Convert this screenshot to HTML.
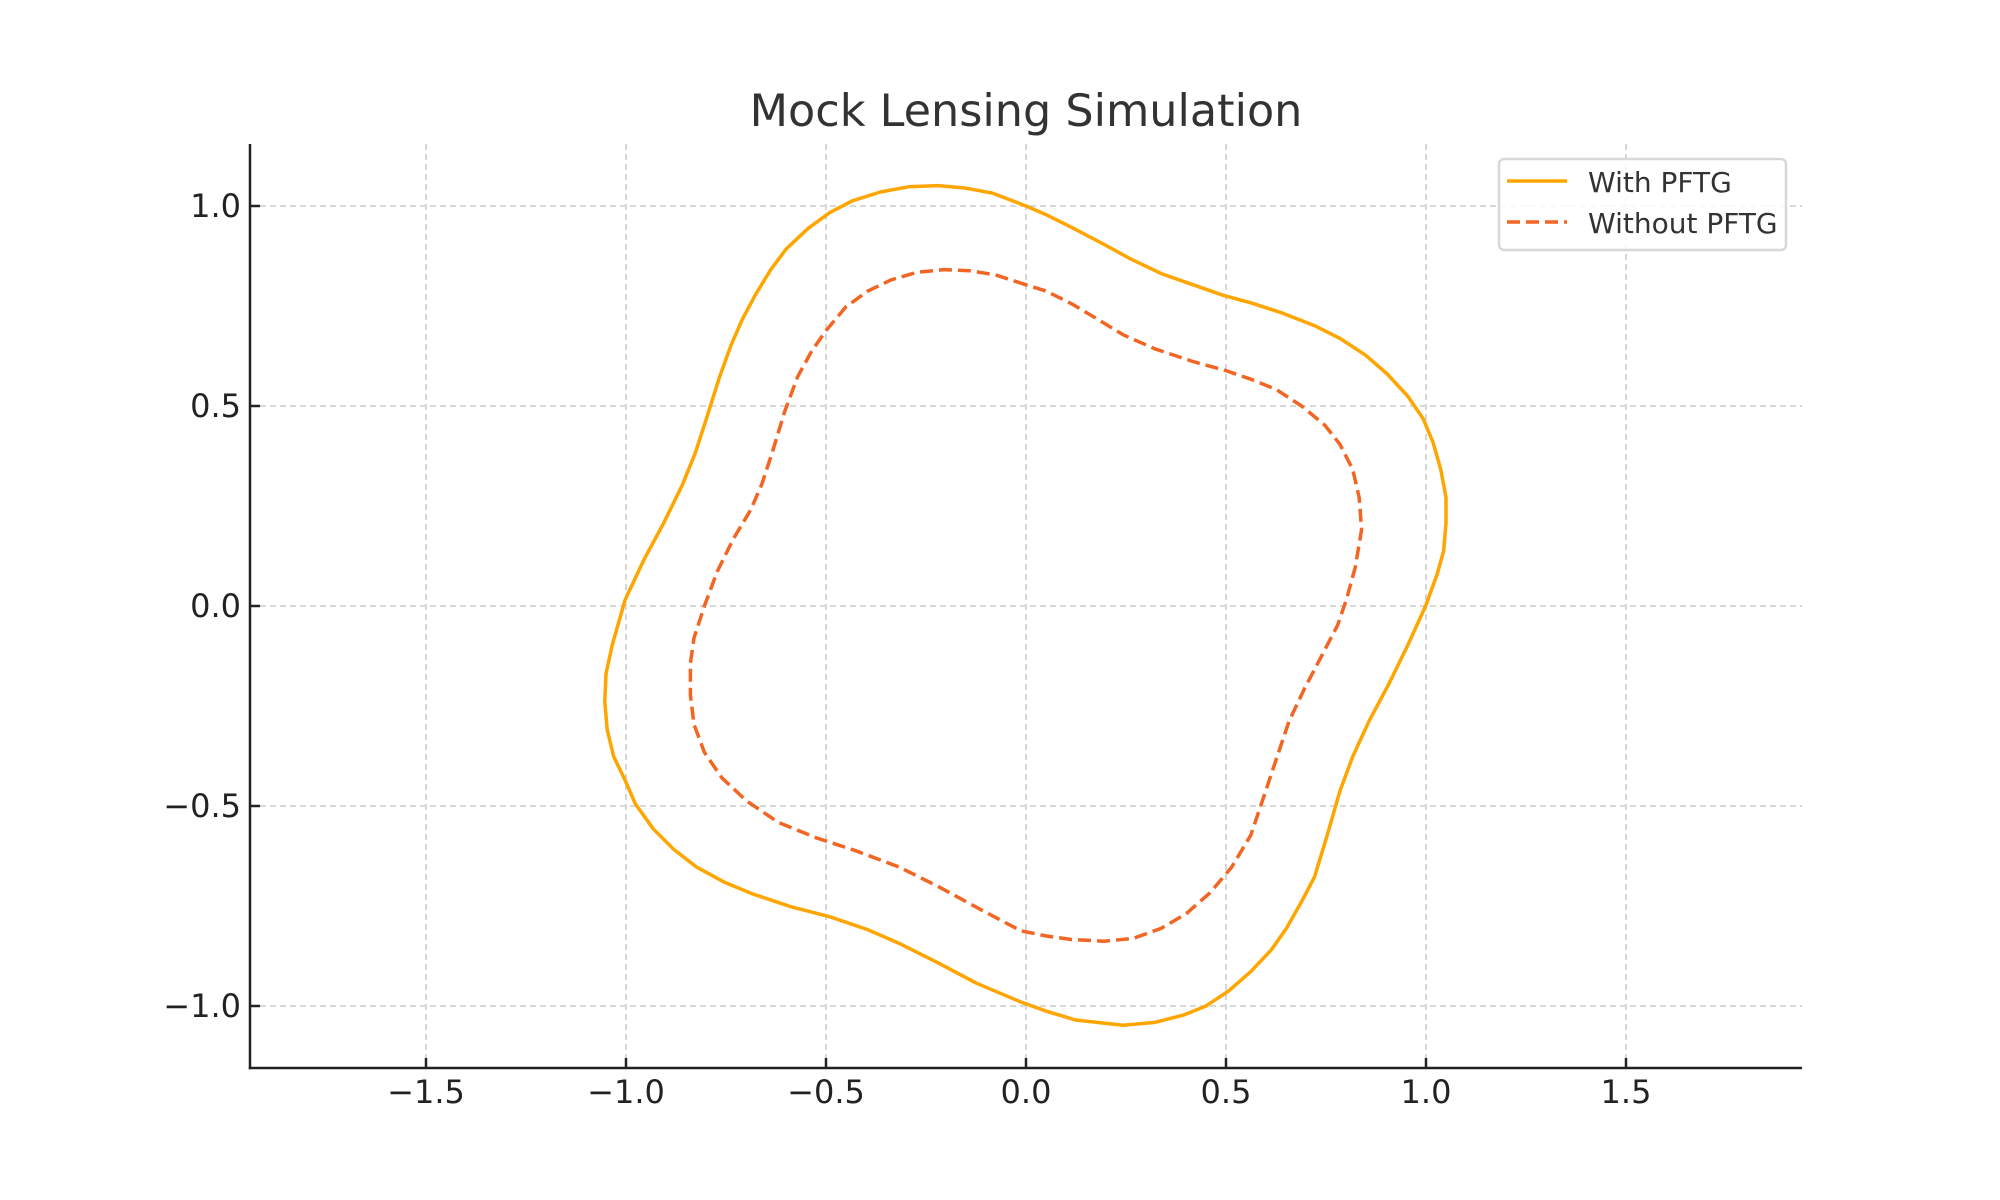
<!DOCTYPE html>
<html><head><meta charset="utf-8"><style>
html,body{margin:0;padding:0;background:#fff}
svg{display:block}
text{font-family:"DejaVu Sans","Liberation Sans",sans-serif}
</style></head><body>
<svg id="chart" width="2000" height="1200" viewBox="0 0 2000 1200">
<rect x="0" y="0" width="2000" height="1200" fill="#fff"/>
<g id="grid"></g>
<g id="series"></g>
<g id="axes"></g>
<text x="1026" y="126" text-anchor="middle" font-size="44.5" fill="#333">Mock Lensing Simulation</text>
<g>
<rect x="1499" y="159" width="287" height="91" rx="5" fill="#fff" fill-opacity="0.85" stroke="#d8d8d8" stroke-width="2.5"/>
<line x1="1507" y1="181" x2="1567" y2="181" stroke="#FFA500" stroke-width="3.5"/>
<text x="1588" y="192" font-size="28" fill="#333">With PFTG</text>
<line x1="1507" y1="222" x2="1567" y2="222" stroke="#F26522" stroke-width="3.5" stroke-dasharray="13,6"/>
<text x="1588" y="233" font-size="28" fill="#333">Without PFTG</text>
</g>
</svg>
<script>
const xTicks = [-1.5,-1.0,-0.5,0.0,0.5,1.0,1.5];
const yTicks = [-1.0,-0.5,0.0,0.5,1.0];
const xTickLabels = ["\u22121.5","\u22121.0","\u22120.5","0.0","0.5","1.0","1.5"];
const yTickLabels = ["\u22121.0","\u22120.5","0.0","0.5","1.0"];
const withX = [0,-0.083,-0.153,-0.22,-0.294,-0.364,-0.434,-0.49,-0.546,-0.6,-0.638,-0.677,-0.709,-0.737,-0.766,-0.801,-0.827,-0.859,-0.906,-0.954,-1.002,-1.034,-1.05,-1.053,-1.047,-1.031,-1.002,-0.977,-0.932,-0.881,-0.823,-0.753,-0.683,-0.587,-0.49,-0.396,-0.316,-0.22,-0.124,-0.013,0.051,0.124,0.243,0.322,0.396,0.45,0.507,0.562,0.613,0.651,0.689,0.721,0.753,0.785,0.817,0.858,0.906,0.954,0.999,1.028,1.044,1.05,1.05,1.037,1.018,0.993,0.954,0.903,0.849,0.785,0.721,0.642,0.562,0.492,0.418,0.338,0.259,0.195,0.115,0.051];
const withY = [1.0,1.032,1.045,1.051,1.048,1.035,1.013,0.984,0.943,0.892,0.841,0.777,0.717,0.653,0.573,0.462,0.382,0.303,0.207,0.118,0.016,-0.096,-0.169,-0.239,-0.309,-0.376,-0.436,-0.494,-0.557,-0.608,-0.653,-0.691,-0.72,-0.752,-0.777,-0.809,-0.844,-0.892,-0.943,-0.99,-1.013,-1.035,-1.048,-1.041,-1.022,-1.0,-0.962,-0.914,-0.86,-0.806,-0.739,-0.678,-0.573,-0.462,-0.376,-0.287,-0.197,-0.099,0.0,0.08,0.137,0.207,0.271,0.341,0.408,0.468,0.525,0.58,0.627,0.669,0.701,0.732,0.758,0.777,0.803,0.831,0.869,0.904,0.946,0.978];
const withoutX = [0,-0.077,-0.14,-0.204,-0.274,-0.338,-0.396,-0.45,-0.498,-0.536,-0.571,-0.603,-0.635,-0.661,-0.689,-0.731,-0.772,-0.804,-0.83,-0.839,-0.839,-0.83,-0.804,-0.76,-0.699,-0.619,-0.523,-0.428,-0.316,-0.22,-0.115,-0.013,0.051,0.115,0.195,0.268,0.338,0.402,0.46,0.514,0.562,0.594,0.626,0.658,0.696,0.741,0.779,0.801,0.823,0.839,0.833,0.817,0.785,0.747,0.689,0.626,0.562,0.498,0.418,0.322,0.243,0.179,0.115,0.051];
const withoutY = [0.803,0.828,0.838,0.841,0.834,0.815,0.787,0.748,0.691,0.637,0.573,0.487,0.382,0.303,0.239,0.169,0.086,0.0,-0.08,-0.143,-0.223,-0.296,-0.366,-0.43,-0.487,-0.541,-0.58,-0.611,-0.653,-0.701,-0.758,-0.812,-0.825,-0.834,-0.838,-0.831,-0.806,-0.768,-0.717,-0.653,-0.573,-0.478,-0.382,-0.287,-0.207,-0.121,-0.048,0.016,0.096,0.191,0.271,0.341,0.404,0.452,0.5,0.541,0.567,0.589,0.611,0.643,0.678,0.717,0.755,0.787];

const NS='http://www.w3.org/2000/svg';
const L=250,R=1802,T=144,B=1068;
function sx(v){return 1026+v*400;}
function sy(v){return 606-v*400;}
function mk(tag,attrs,parent){const e=document.createElementNS(NS,tag);for(const k in attrs)e.setAttribute(k,attrs[k]);parent.appendChild(e);return e;}
const grid=document.getElementById('grid'),axes=document.getElementById('axes'),series=document.getElementById('series');
xTicks.forEach((v,i)=>{
  const g=mk('line',{x1:sx(v),x2:sx(v),y1:T,y2:B,stroke:'#cccccc','stroke-width':1.6,'stroke-dasharray':'6,4'},grid);
  
  
  const t=mk('line',{x1:sx(v),x2:sx(v),y1:B,y2:B-10,stroke:'#222','stroke-width':2.5},axes);
  
  
  const lb=mk('text',{x:sx(v),y:1103,'text-anchor':'middle','font-size':32,fill:'#222'},axes);
  lb.textContent=xTickLabels[i];
  
  
});
yTicks.forEach((v,i)=>{
  const g=mk('line',{x1:L,x2:R,y1:sy(v),y2:sy(v),stroke:'#cccccc','stroke-width':1.6,'stroke-dasharray':'6,4'},grid);
  
  
  const t=mk('line',{x1:L,x2:L+10,y1:sy(v),y2:sy(v),stroke:'#222','stroke-width':2.5},axes);
  
  
  const lb=mk('text',{x:241,y:sy(v)+11,'text-anchor':'end','font-size':32,fill:'#222'},axes);
  lb.textContent=yTickLabels[i];
  
  
});
const ls=mk('line',{x1:L,x2:L,y1:T,y2:B+1.25,stroke:'#222','stroke-width':2.5},axes);


const bs=mk('line',{x1:L-1.25,x2:R,y1:B,y2:B,stroke:'#222','stroke-width':2.5},axes);


function pts(xs,ys){return xs.map((x,i)=>sx(x).toFixed(1)+','+sy(ys[i]).toFixed(1)).join(' ');}
const p1=mk('polygon',{points:pts(withX,withY),fill:'none',stroke:'#FFA500','stroke-width':3.5,'stroke-linejoin':'round'},series);


const p2=mk('polygon',{points:pts(withoutX,withoutY),fill:'none',stroke:'#F26522','stroke-width':3.5,'stroke-dasharray':'13,6','stroke-linejoin':'round'},series);


</script>
</body></html>
